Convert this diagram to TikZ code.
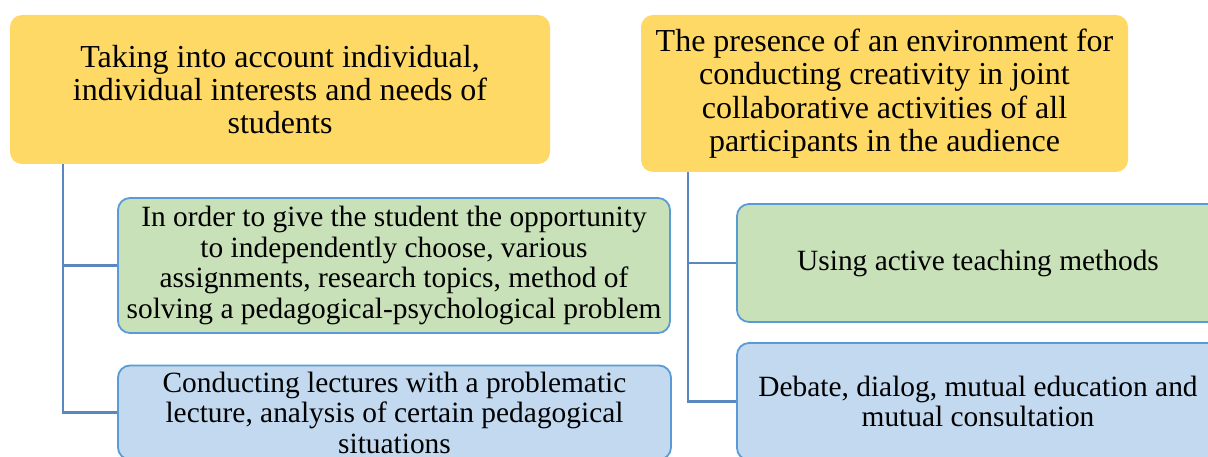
\documentclass[tikz,border=0pt]{standalone}
\usepackage{fontspec}
\setmainfont{Liberation Serif}
\definecolor{ygold}{HTML}{FFD966}
\definecolor{lgreen}{HTML}{C9E1B8}
\definecolor{lblue}{HTML}{C2D9EF}
\definecolor{bborder}{HTML}{5B9BD5}
\definecolor{cline}{HTML}{5A87BF}
\tikzset{
  topbox/.style={fill=ygold, draw=none, rounded corners=12pt, align=center,
    inner sep=0pt, font=\fontsize{32}{33.3}\selectfont},
  subbox/.style={draw=bborder, line width=1.8pt, rounded corners=12pt, align=center,
    inner sep=0pt, font=\fontsize{29.4}{30.5}\selectfont},
  gbox/.style={subbox, fill=lgreen},
  bbox/.style={subbox, fill=lblue},
  conn/.style={draw=cline, line width=2.4pt}
}
\begin{document}
\begin{tikzpicture}[x=1pt, y=-1pt]
\useasboundingbox (0,0) rectangle (1208,457);
\begin{scope}
\clip (0,0) rectangle (1208,457);
% top boxes
\node[topbox, minimum width=540pt, minimum height=149pt] (y1) at (280,89.5)
  {Taking into account individual,\\ individual interests and needs of\\ students};
\node[topbox, minimum width=487pt, minimum height=157pt] (y2) at (884.5,93.5)
  {The presence of an environment for\\ conducting creativity in joint\\ collaborative activities of all\\ participants in the audience};
% connectors
\coordinate (tl) at (63,0);
\coordinate (tr) at (688,0);
% sub boxes left
\node[gbox, minimum width=552pt, minimum height=135pt] (g1) at (394,265.5)
  {In order to give the student the opportunity\\ to independently choose, various\\ assignments, research topics, method of\\ solving a pedagogical-psychological problem};
\node[bbox, minimum width=553pt, minimum height=94pt] (b1) at (394.5,412.5)
  {Conducting lectures with a problematic\\ lecture, analysis of certain pedagogical\\ situations};
% sub boxes right
\node[gbox, minimum width=482pt, minimum height=118pt] (g2) at (978,263)
  {Using active teaching methods};
\node[bbox, minimum width=482pt, minimum height=117pt] (b2) at (978,401.5)
  {Debate, dialog, mutual education and\\ mutual consultation};
\draw[conn] (tl |- y1.south) |- (g1.west);
\draw[conn] (tl |- y1.south) |- (b1.west);
\draw[conn] (tr |- y2.south) |- (g2.west);
\draw[conn] (tr |- y2.south) |- (b2.west);
\end{scope}
\end{tikzpicture}
\end{document}
